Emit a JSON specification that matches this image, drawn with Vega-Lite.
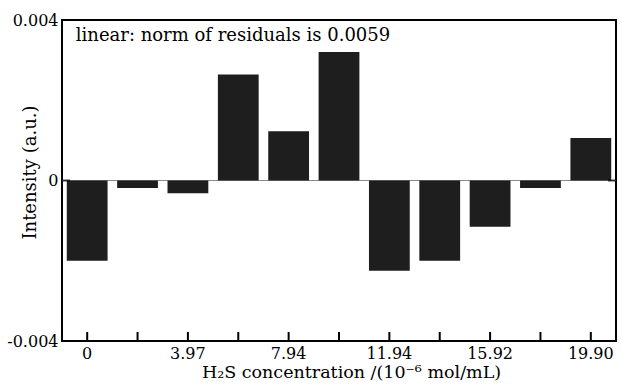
{
  "$schema": "https://vega.github.io/schema/vega-lite/v6.json",
  "width": 554,
  "height": 321,
  "autosize": {"type": "none"},
  "padding": {"left": 62, "top": 20, "right": 6, "bottom": 45},
  "background": "white",
  "config": {
    "view": {"stroke": "black", "strokeWidth": 2},
    "font": "DejaVu Serif",
    "axis": {
      "labelFont": "DejaVu Serif",
      "titleFont": "DejaVu Serif",
      "labelFontSize": 16,
      "titleFontSize": 17.5,
      "titleFontWeight": "normal",
      "labelColor": "black",
      "titleColor": "black",
      "ticks": false,
      "domain": false,
      "grid": false
    }
  },
  "data": {
    "values": [
      {"conc": "0", "residual": -0.0020},
      {"conc": "1.99", "residual": -0.00019},
      {"conc": "3.97", "residual": -0.00032},
      {"conc": "5.96", "residual": 0.00264},
      {"conc": "7.94", "residual": 0.00123},
      {"conc": "9.93", "residual": 0.0032},
      {"conc": "11.94", "residual": -0.00225},
      {"conc": "13.93", "residual": -0.0020},
      {"conc": "15.92", "residual": -0.00115},
      {"conc": "17.91", "residual": -0.00019},
      {"conc": "19.90", "residual": 0.00106}
    ]
  },
  "layer": [
    {
      "data": {"values": [{}]},
      "mark": {"type": "rule", "color": "#8a8a8a", "strokeWidth": 1},
      "encoding": {
        "y": {"datum": 0, "type": "quantitative"}
      }
    },
    {
      "mark": {"type": "bar", "color": "#1e1e1e"},
      "encoding": {
        "x": {
          "field": "conc",
          "type": "ordinal",
          "sort": null,
          "scale": {"paddingInner": 0.19, "paddingOuter": 0.095},
          "axis": {
            "title": "H₂S concentration /(10⁻⁶ mol/mL)",
            "labelAngle": 0,
            "labelPadding": 4,
            "titlePadding": 2,
            "titleX": 289,
            "labelExpr": "indexof(['0','3.97','7.94','11.94','15.92','19.90'], datum.value) >= 0 ? datum.value : ''"
          }
        },
        "y": {
          "field": "residual",
          "type": "quantitative",
          "scale": {"domain": [-0.004, 0.004], "nice": false},
          "axis": {
            "title": "Intensity (a.u.)",
            "titleFontSize": 18,
            "values": [-0.004, 0, 0.004],
            "labelExpr": "datum.value === 0 ? '0' : (datum.value < 0 ? '-' : '') + format(abs(datum.value), '.3f')",
            "labelPadding": 4,
            "titleX": -32,
            "titleY": 152,
            "titleAngle": -90,
            "titleAlign": "center",
            "titleBaseline": "middle"
          }
        }
      }
    },
    {
      "mark": {"type": "rule", "color": "black", "strokeWidth": 2},
      "encoding": {
        "x": {"field": "conc", "type": "ordinal", "sort": null},
        "y": {"datum": -0.004, "type": "quantitative"},
        "y2": {"datum": -0.003775}
      }
    },
    {
      "data": {"values": [{"edge": "0"}]},
      "mark": {"type": "tick", "orient": "horizontal", "color": "black", "size": 16, "thickness": 2, "clip": true, "xOffset": -25.2},
      "encoding": {
        "x": {"field": "edge", "type": "ordinal", "sort": null},
        "y": {"datum": 0, "type": "quantitative"}
      }
    },
    {
      "data": {"values": [{"edge": "19.90"}]},
      "mark": {"type": "tick", "orient": "horizontal", "color": "black", "size": 16, "thickness": 2, "clip": true, "xOffset": 25.2},
      "encoding": {
        "x": {"field": "edge", "type": "ordinal", "sort": null},
        "y": {"datum": 0, "type": "quantitative"}
      }
    },
    {
      "data": {"values": [{"label": "linear: norm of residuals is 0.0059"}]},
      "mark": {"type": "text", "align": "left", "baseline": "middle", "fontSize": 18, "font": "DejaVu Serif", "color": "black", "dx": 9},
      "encoding": {
        "x": {"datum": "0", "bandPosition": 0},
        "y": {"datum": 0.0036},
        "text": {"field": "label"}
      }
    }
  ]
}
